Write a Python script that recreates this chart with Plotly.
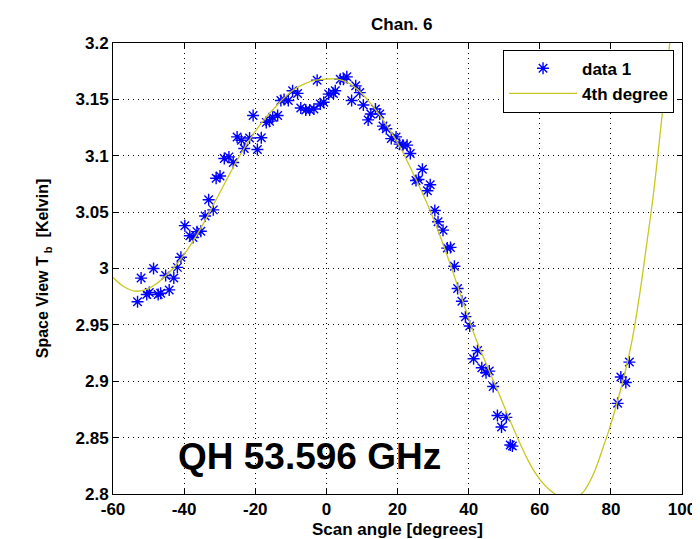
import plotly.graph_objects as go

# ---- data ----
scan_angle = [
    -53.1, -52.1, -50.5, -49.8, -48.6, -47.3, -46.6, -45.2, -44.2, -42.9,
    -41.9, -40.9, -39.8, -38.4, -37.5, -36.4, -35.3, -34.1, -33.1, -31.8,
    -31.0, -29.9, -28.7, -27.4, -26.2, -25.1, -23.9, -23.1, -21.6, -20.6,
    -19.4, -18.3, -16.9, -16.0, -15.1, -13.7, -12.8, -11.9, -10.7, -9.5,
    -8.1, -7.2, -5.8, -4.7, -3.5, -2.6, -1.7, -0.75, 0.65, 2.0,
    2.5, 3.9, 4.8, 5.75, 7.1, 8.25, 9.4, 10.4, 11.75, 12.5,
    13.8, 15.0, 15.9, 16.85, 18.25, 19.6, 20.6, 21.5, 22.7, 23.6,
    25.2, 25.9, 27.0, 28.4, 29.2, 30.5, 31.4, 32.8, 34.0, 34.9,
    36.0, 36.9, 38.1, 39.1, 40.3, 41.4, 42.5, 43.7, 44.9, 45.8,
    46.9, 48.1, 49.25, 50.6, 51.7, 52.3, 81.9, 82.8, 84.2, 85.2,
]
space_view_tb = [
    2.9705, 2.9915, 2.977, 2.9787, 3.000, 2.977, 2.978, 2.9938, 2.981, 2.9915,
    3.001, 3.010, 3.038, 3.029, 3.0275, 3.0327, 3.033, 3.0465, 3.061, 3.052,
    3.080, 3.082, 3.0976, 3.099, 3.094, 3.1167, 3.1137, 3.1064, 3.1158, 3.1357,
    3.1055, 3.116, 3.1296, 3.1307, 3.1342, 3.1357, 3.149, 3.150, 3.149, 3.1576,
    3.1553, 3.1424, 3.1406, 3.1406, 3.1415, 3.167, 3.1459, 3.1474, 3.1547, 3.1553,
    3.1576, 3.1678, 3.1678, 3.170, 3.149, 3.162, 3.156, 3.145, 3.1318, 3.137,
    3.1415, 3.137, 3.1263, 3.124, 3.1152, 3.1167, 3.1103, 3.1094, 3.1094, 3.102,
    3.078, 3.079, 3.088, 3.069, 3.0743, 3.0515, 3.0415, 3.034, 3.0181, 3.0187,
    3.002, 2.9822, 2.971, 2.9573, 2.949, 2.920, 2.9272, 2.912, 2.9076, 2.909,
    2.8953, 2.8696, 2.8594, 2.868, 2.8435, 2.8425, 2.8804, 2.9038, 2.8989, 2.917,
]

# 4th degree fit curve
fit_angle = [
    -60, -57, -54, -51, -48, -45, -42, -39, -36, -33, -30, -27, -24, -21,
    -18, -15, -12, -9, -6, -3, 0, 3, 6, 9, 12, 15, 18, 21, 24, 27, 30, 33,
    36, 39, 42, 45, 48, 51, 54, 57, 60, 63, 66, 69, 72, 75, 78, 80, 82, 84,
    86, 88, 90, 92, 94, 96, 98, 100,
]
fit_tb = [
    2.992, 2.984, 2.980, 2.981, 2.986, 2.994, 3.004, 3.017, 3.032, 3.049,
    3.067, 3.085, 3.102, 3.117, 3.130, 3.141, 3.151, 3.159, 3.164, 3.167,
    3.168, 3.168, 3.165, 3.158, 3.148, 3.136, 3.122, 3.106, 3.087, 3.067,
    3.045, 3.020, 2.993, 2.965, 2.938, 2.915, 2.893, 2.870, 2.848, 2.828,
    2.813, 2.803, 2.797, 2.796, 2.801, 2.817, 2.843, 2.862, 2.884, 2.908,
    2.937, 2.975, 3.020, 3.067, 3.124, 3.183, 3.245, 3.310,
]

x_ticks = [-60, -40, -20, 0, 20, 40, 60, 80, 100]
x_tick_labels = ["-60", "-40", "-20", "0", "20", "40", "60", "80", "100"]
y_ticks = [2.8, 2.85, 2.9, 2.95, 3.0, 3.05, 3.1, 3.15, 3.2]
y_tick_labels = ["2.8", "2.85", "2.9", "2.95", "3", "3.05", "3.1", "3.15", "3.2"]

FONT = "Liberation Sans, Arial, Helvetica, sans-serif"
bold = dict(family=FONT, size=17, color="black", weight="bold")
bold_ytitle = dict(family=FONT, size=16, color="black", weight="bold")

fig = go.Figure()
fig.add_trace(go.Scatter(
    x=scan_angle, y=space_view_tb, mode="markers", name="data 1",
    marker=dict(symbol="asterisk-open", size=10, color="blue",
                line=dict(color="blue", width=1.4)),
))
fig.add_trace(go.Scatter(
    x=fit_angle, y=fit_tb, mode="lines", name="4th degree",
    line=dict(color="rgb(200,200,30)", width=1.3, shape="spline", smoothing=1.0),
))

axis_common = dict(
    showline=True, linecolor="black", linewidth=1, mirror="ticks",
    ticks="inside", ticklen=5, tickcolor="black", tickwidth=1,
    showgrid=True, gridcolor="black", gridwidth=1, griddash="1px,4px",
    zeroline=False, tickfont=bold,
)

fig.update_xaxes(
    range=[-60, 100], tickvals=x_ticks, ticktext=x_tick_labels,
    title=dict(text="Scan angle [degrees]", font=bold, standoff=4),
    **axis_common,
)
fig.update_yaxes(
    range=[2.8, 3.2], tickvals=y_ticks, ticktext=y_tick_labels,
    title=dict(text="Space View T<sub> b</sub>  [Kelvin]", font=bold_ytitle, standoff=22),
    **axis_common,
)

fig.update_layout(
    width=700, height=539,
    margin=dict(l=105, r=18, t=35, b=48),
    paper_bgcolor="white", plot_bgcolor="white",
    title=dict(text="Chan. 6", font=bold, x=0.5625, xanchor="center",
               y=0.970, yanchor="middle", xref="container", yref="container"),
    legend=dict(x=0.986, xanchor="right", y=0.985, yanchor="top",
                bgcolor="white", bordercolor="black", borderwidth=1,
                font=bold, itemwidth=68, tracegroupgap=0),
    showlegend=True,
    annotations=[dict(
        text="QH 53.596 GHz", xref="paper", yref="paper",
        x=0.11, xanchor="left", y=0.083, yanchor="middle", showarrow=False,
        font=dict(family=FONT, size=37, color="black", weight="bold"),
    )],
)

fig.write_html("out.html")
